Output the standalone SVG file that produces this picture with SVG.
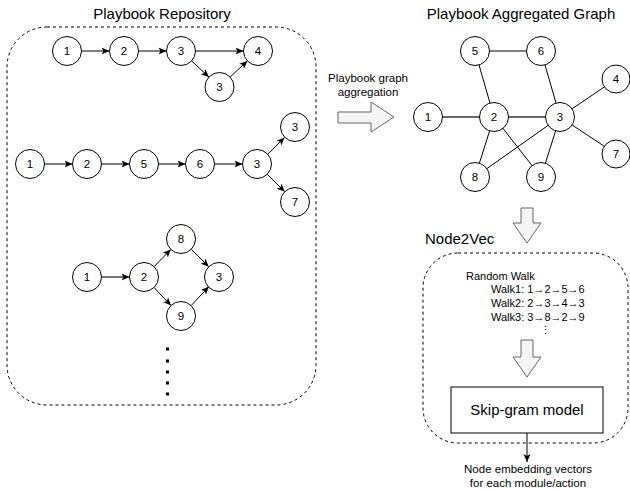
<svg xmlns="http://www.w3.org/2000/svg" width="630" height="491" viewBox="0 0 630 491">
<defs>
<style>
text{font-family:"Liberation Sans",Arial,sans-serif;fill:#000}
.n circle{fill:#fff;stroke:#000;stroke-width:1}
.n text{font-size:11.5px;text-anchor:middle}
.e{stroke:#000;stroke-width:1;fill:none}
.ea{stroke:#000;stroke-width:1;fill:none;marker-end:url(#ah)}
.g{stroke:#666;stroke-width:1.8}
.box{fill:none;stroke:#000;stroke-width:1;stroke-dasharray:3 3}
.big{fill:#f5f5f5;stroke:#666;stroke-width:1}
.t15{font-size:15px;text-anchor:middle}
.t11{font-size:11px}
.t115{font-size:11.5px;text-anchor:middle}
</style>
<marker id="ah" viewBox="0 0 8 8" refX="8" refY="4" markerWidth="8" markerHeight="8" markerUnits="userSpaceOnUse" orient="auto">
<path d="M0,0.5 L8,4 L0,7.5 L2,4 Z" fill="#000"/>
</marker>
</defs>

<text class="t15" x="162" y="19">Playbook Repository</text>
<text class="t15" x="521" y="19">Playbook Aggregated Graph</text>
<rect class="box" x="7" y="27" width="309" height="378" rx="40"/>
<rect class="box" x="423" y="253" width="205" height="190" rx="35"/>

<g id="connectors">
<!-- row 1 -->
<line class="ea" x1="81.5" y1="51" x2="109.5" y2="51"/>
<line class="ea" x1="138.5" y1="51" x2="166.5" y2="51"/>
<line class="ea" x1="195.5" y1="51" x2="243.5" y2="51"/>
<line class="ea" x1="191.6" y1="60.9" x2="208.9" y2="77.1"/>
<line class="ea" x1="230.1" y1="77.1" x2="247.4" y2="60.9"/>
<!-- row 2 -->
<line class="ea" x1="44.5" y1="164" x2="72.5" y2="164"/>
<line class="ea" x1="101.5" y1="164" x2="129.5" y2="164"/>
<line class="ea" x1="158.5" y1="164" x2="185.5" y2="164"/>
<line class="ea" x1="214.5" y1="164" x2="242.5" y2="164"/>
<line class="ea" x1="267.7" y1="154.2" x2="284.6" y2="137.5"/>
<line class="ea" x1="267.3" y1="174.3" x2="284.7" y2="191.7"/>
<!-- row 3 -->
<line class="ea g" x1="101.5" y1="277" x2="129.5" y2="277"/>
<line class="ea" x1="154.1" y1="266.6" x2="170.9" y2="249.4"/>
<line class="ea" x1="154" y1="287.5" x2="171" y2="305.5"/>
<line class="ea" x1="191.3" y1="249.3" x2="208.7" y2="266.7"/>
<line class="ea" x1="191.1" y1="305.6" x2="208.9" y2="286.6"/>
<!-- aggregated -->
<line class="e g" x1="428" y1="117" x2="494" y2="117"/>
<line class="e g" x1="494" y1="117" x2="560" y2="117"/>
<line class="e" x1="475" y1="51" x2="541" y2="51"/>
<line class="e" x1="475" y1="51" x2="494" y2="117"/>
<line class="e" x1="541" y1="51" x2="560" y2="117"/>
<line class="e" x1="560" y1="117" x2="616" y2="79"/>
<line class="e" x1="560" y1="117" x2="616" y2="154"/>
<line class="e" x1="494" y1="117" x2="475" y2="177"/>
<line class="e" x1="494" y1="117" x2="541" y2="177"/>
<line class="e" x1="560" y1="117" x2="475" y2="177"/>
<line class="e" x1="560" y1="117" x2="541" y2="177"/>
<!-- output arrow -->
<line class="ea" x1="527" y1="433" x2="527" y2="462"/>
</g>

<g id="r1n1" class="n"><circle cx="67" cy="51" r="14.5"/><text x="67" y="55">1</text></g>
<g id="r1n2" class="n"><circle cx="124" cy="51" r="14.5"/><text x="124" y="55">2</text></g>
<g id="r1n3" class="n"><circle cx="181" cy="51" r="14.5"/><text x="181" y="55">3</text></g>
<g id="r1n4" class="n"><circle cx="258" cy="51" r="14.5"/><text x="258" y="55">4</text></g>
<g id="r1n3b" class="n"><circle cx="219.5" cy="87" r="14.5"/><text x="219.5" y="91">3</text></g>

<g id="r2n1" class="n"><circle cx="30" cy="164" r="14.5"/><text x="30" y="168">1</text></g>
<g id="r2n2" class="n"><circle cx="87" cy="164" r="14.5"/><text x="87" y="168">2</text></g>
<g id="r2n5" class="n"><circle cx="144" cy="164" r="14.5"/><text x="144" y="168">5</text></g>
<g id="r2n6" class="n"><circle cx="200" cy="164" r="14.5"/><text x="200" y="168">6</text></g>
<g id="r2n3" class="n"><circle cx="257" cy="164" r="14.5"/><text x="257" y="168">3</text></g>
<g id="r2n3b" class="n"><circle cx="295" cy="127" r="14.5"/><text x="295" y="131">3</text></g>
<g id="r2n7" class="n"><circle cx="295" cy="202" r="14.5"/><text x="295" y="206">7</text></g>

<g id="r3n1" class="n"><circle cx="87" cy="277" r="14.5"/><text x="87" y="281">1</text></g>
<g id="r3n2" class="n"><circle cx="144" cy="277" r="14.5"/><text x="144" y="281">2</text></g>
<g id="r3n8" class="n"><circle cx="181" cy="239" r="14.5"/><text x="181" y="243">8</text></g>
<g id="r3n9" class="n"><circle cx="181" cy="316" r="14.5"/><text x="181" y="320">9</text></g>
<g id="r3n3" class="n"><circle cx="219" cy="277" r="14.5"/><text x="219" y="281">3</text></g>

<g id="dots" fill="#000">
<rect x="166" y="347.5" width="3" height="3"/>
<rect x="166" y="359.5" width="3" height="3"/>
<rect x="166" y="370.5" width="3" height="3"/>
<rect x="166" y="381.5" width="3" height="3"/>
<rect x="166" y="392.5" width="3" height="3"/>
</g>

<g id="agg-arrow">
<polygon class="big" points="338,112 371,112 371,102 394,117 371,132 371,123 338,123"/>
<text class="t115" x="368" y="82">Playbook graph</text>
<text class="t115" x="368" y="96">aggregation</text>
</g>

<g id="a1" class="n"><circle cx="428" cy="117" r="14.5"/><text x="428" y="121">1</text></g>
<g id="a2" class="n"><circle cx="494" cy="117" r="14.5"/><text x="494" y="121">2</text></g>
<g id="a3" class="n"><circle cx="560" cy="117" r="14.5"/><text x="560" y="121">3</text></g>
<g id="a5" class="n"><circle cx="475" cy="51" r="14.5"/><text x="475" y="55">5</text></g>
<g id="a6" class="n"><circle cx="541" cy="51" r="14.5"/><text x="541" y="55">6</text></g>
<g id="a4" class="n"><circle cx="616" cy="79" r="14"/><text x="616" y="83">4</text></g>
<g id="a7" class="n"><circle cx="616" cy="154" r="14"/><text x="616" y="158">7</text></g>
<g id="a8" class="n"><circle cx="475" cy="177" r="14.5"/><text x="475" y="181">8</text></g>
<g id="a9" class="n"><circle cx="541" cy="177" r="14.5"/><text x="541" y="181">9</text></g>

<g id="down1"><polygon class="big" points="521,208 533,208 533,223 541,223 527,243 513,223 521,223"/></g>
<text x="425" y="244" style="font-size:15px">Node2Vec</text>

<g id="random-walk">
<text class="t11" x="466" y="280">Random Walk</text>
<text class="t11" x="491" y="293">Walk1: 1→2→5→6</text>
<text class="t11" x="491" y="307">Walk2: 2→3→4→3</text>
<text class="t11" x="491" y="321">Walk3: 3→8→2→9</text>
<text class="t11" x="545" y="334" text-anchor="middle">⋮</text>
</g>

<g id="down2"><polygon class="big" points="521,340 533,340 533,357 541,357 527,377 513,357 521,357"/></g>

<g id="skipgram">
<rect x="451" y="387" width="152" height="46" fill="#fff" stroke="#000" stroke-width="1"/>
<text class="t15" x="527" y="415">Skip-gram model</text>
</g>

<text class="t115" x="528" y="473">Node embedding vectors</text>
<text class="t115" x="528" y="487">for each module/action</text>
</svg>
